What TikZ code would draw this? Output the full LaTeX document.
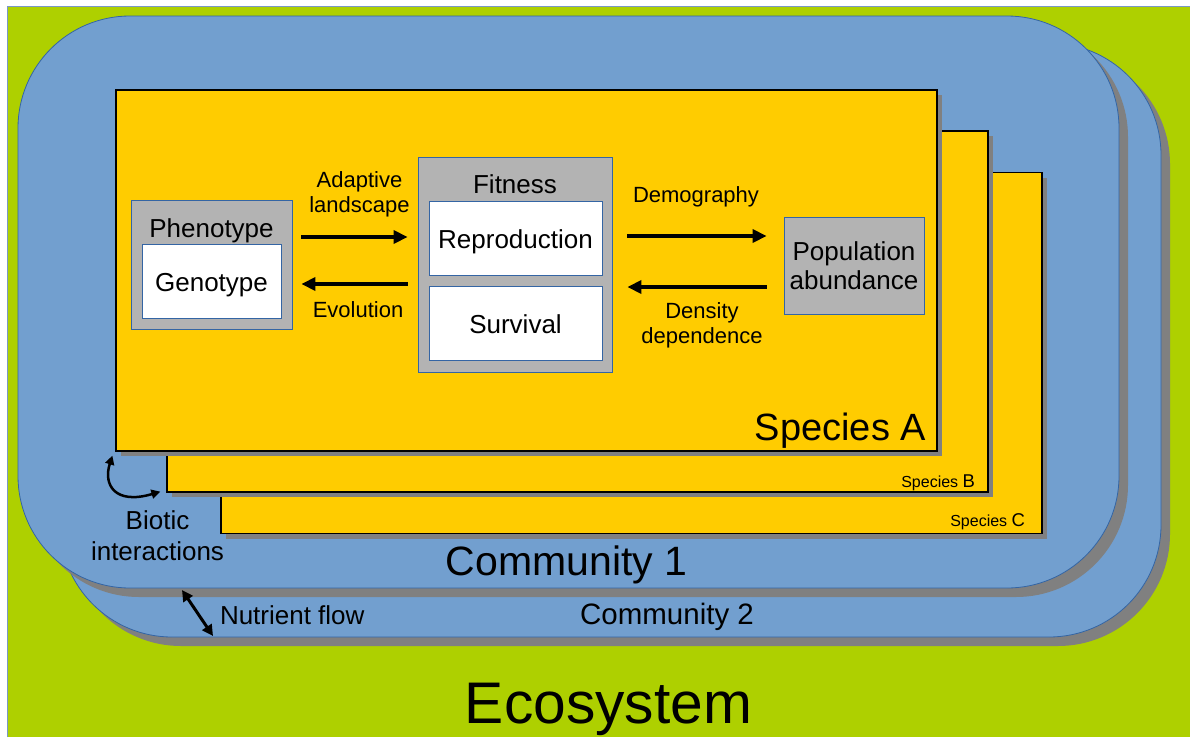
\documentclass[tikz,border=0pt]{standalone}
\usepackage{fontspec}
\setmainfont{Liberation Sans}
\usetikzlibrary{arrows.meta,shadows}

\definecolor{eco}{HTML}{AED000}
\definecolor{ecoedge}{HTML}{7A98C4}
\definecolor{comm}{HTML}{729FCF}
\definecolor{edge}{HTML}{3465A4}
\definecolor{spec}{HTML}{FFCC00}
\definecolor{boxgray}{HTML}{B3B3B3}
\definecolor{shade}{HTML}{808080}

\newcommand{\fs}[2]{\fontsize{#1pt}{#2pt}\selectfont}

\begin{document}
\begin{tikzpicture}[x=1pt,y=-1pt,
  community/.style={draw=edge, line width=0.8pt, fill=comm, rounded corners=112pt,
    inner sep=0pt, minimum width=1101pt,
    drop shadow={shadow xshift=9pt, shadow yshift=-9pt, fill=shade, opacity=1}},
  species/.style={draw=black, line width=1.2pt, fill=spec, inner sep=0pt,
    minimum width=821pt, minimum height=361pt,
    drop shadow={shadow xshift=5pt, shadow yshift=-5pt, fill=shade, opacity=1}},
  graybox/.style={draw=edge, line width=0.8pt, fill=boxgray, inner sep=0pt},
  whitebox/.style={draw=edge, line width=0.8pt, fill=white, inner sep=0pt,
    minimum width=173pt, minimum height=74pt, text height=21pt, text depth=0pt,
    font=\fs{26}{30}},
  txt/.style={inner sep=0pt, outer sep=0pt},
  boxlbl/.style={txt, font=\fs{26}{30}},
  arrowlbl/.style={txt, font=\fs{22}{25}, align=center},
  flow/.style={line width=4.5pt, -{Triangle[length=14pt,width=13pt]}},
  bio/.style={line width=2.5pt, {Triangle[length=9pt,width=9pt]}-{Triangle[length=9pt,width=9pt]}},
  nut/.style={line width=3pt, {Triangle[length=11pt,width=11pt]}-{Triangle[length=11pt,width=11pt]}}
]
% canvas and ecosystem background
\fill[white] (0,0) rectangle (1190,736);
\useasboundingbox (0,0) rectangle (1190,736);
\filldraw[fill=eco, draw=ecoedge, line width=1pt] (7,6) rectangle (1200,746);

% communities
\node[community, minimum height=594pt] (com2) at (610.5,340) {};
\node[community, minimum height=572pt] (com1) at (568.5,302) {};

% species layers
\node[species] (spC) at (631.5,353) {};
\node[species] (spB) at (577.5,311.5) {};
\node[species] (spA) at (526.5,270.5) {};

\node[txt, anchor=base east, font=\fs{16}{18}] (labC) at (1025,526) {Species {\fs{18.5}{20}C}};
\node[txt, anchor=base east, font=\fs{16}{18}] (labB) at (975,487) {Species {\fs{18.5}{20}B}};
\node[txt, anchor=base east, font=\fs{38}{42}] (labA) at (926,440) {Species A};

% phenotype / genotype
\node[graybox, minimum width=161pt, minimum height=129pt] (pheno) at (211.5,264.5) {};
\node[boxlbl, anchor=base] (phenoLbl) at (211.5,237) {Phenotype};
\node[whitebox, minimum width=139pt] (geno) at (211.5,281) {Genotype};

% fitness
\node[graybox, minimum width=194pt, minimum height=215pt] (fit) at (515,264.5) {};
\node[boxlbl, anchor=base] (fitLbl) at (515,193) {Fitness};
\node[whitebox] (repro) at (515.5,238) {Reproduction};
\node[whitebox] (surv) at (515.5,323) {Survival};

% population
\node[graybox, minimum width=140pt, minimum height=97pt, align=center,
      font=\fs{26}{29}] (pop) at (854,265.5) {Population\\abundance};

% arrows between the boxes
\coordinate (yAdapt) at (0,237);
\coordinate (yEvol) at (0,284);
\coordinate (yDemo) at (0,236);
\coordinate (yDens) at (0,287);
\draw[flow, shorten <=9pt, shorten >=10pt] (pheno.east |- yAdapt) -- (fit.west |- yAdapt);
\draw[flow, shorten <=10pt, shorten >=9pt] (fit.west |- yEvol) -- (pheno.east |- yEvol);
\draw[flow, shorten <=15pt, shorten >=17pt] (fit.east |- yDemo) -- (pop.west |- yDemo);
\draw[flow, shorten <=17pt, shorten >=15pt] (pop.west |- yDens) -- (fit.east |- yDens);

% multi-line labels are placed by the baseline of their last line
\node[arrowlbl, anchor=base] (adaptLbl) at (359.5,212) {Adaptive\\landscape};
\node[arrowlbl, anchor=base] (evolLbl) at (358,317) {Evolution};
\node[arrowlbl, anchor=base] (demoLbl) at (696,202) {Demography};
\node[arrowlbl, anchor=base] (densLbl) at (702,343) {Density\\dependence};

% biotic interactions between species
\coordinate (bioA) at ([shift={(-3pt,-4pt)}]spA.south west);
\coordinate (bioB) at ([shift={(-6pt,1pt)}]spB.south west);
\draw[bio] (bioA) .. controls (103,485) and (115,505) .. (bioB);
\node[txt, anchor=base, align=center, font=\fs{26}{31}] (bioLbl) at (157.5,560) {Biotic\\interactions};

% nutrient flow between communities
\coordinate (nutTop) at (182,590);
\coordinate (nutBot) at (213,636);
\draw[nut] (nutTop) -- (nutBot);
\node[txt, anchor=base west, font=\fs{26}{30}] (nutLbl) at (220,624) {Nutrient flow};

% level titles
\node[txt, anchor=base, font=\fs{41}{45}] (com1Lbl) at (566.5,575) {Community 1};
\node[txt, anchor=base, font=\fs{29.5}{33}] (com2Lbl) at (667,624) {Community 2};
\node[txt, anchor=base, font=\fs{58.7}{64}] (ecoLbl) at (608.5,723) {Ecosystem};
\end{tikzpicture}
\end{document}
